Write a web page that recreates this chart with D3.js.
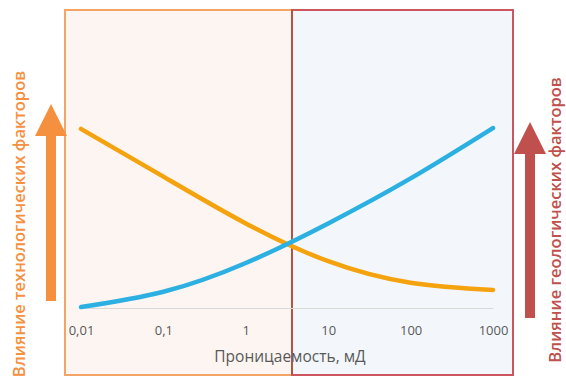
<!DOCTYPE html>
<html>
<head>
<meta charset="utf-8">
<script src="https://cdn.jsdelivr.net/npm/d3@7"></script>
<style>
  body { margin: 0; background: #fff; }
  text { font-family: "Open Sans", Lato, sans-serif; }
</style>
</head>
<body>
<svg id="chart" width="566" height="392"></svg>
<script>
// permeability ticks (mD) and relative influence values
const permeability = [0.01, 0.1, 1, 10, 100, 1000];
const tickLabels = ['0,01', '0,1', '1', '10', '100', '1000'];
const technological = [99.5, 73, 47, 26, 14, 10];
const geological = [0.5, 9, 25, 47, 72, 100];

const svg = d3.select('#chart');

const x = d3.scaleLog().domain([0.01, 1000]).range([81, 493]);
const y = d3.scaleLinear().domain([0, 100]).range([308, 128]);

// background zones
const splitX = 292;
svg.append('rect')
  .attr('x', 65).attr('y', 10).attr('width', splitX - 65).attr('height', 365)
  .attr('fill', '#fdf5f1').attr('stroke', '#f5a468').attr('stroke-width', 2);
svg.append('rect')
  .attr('x', splitX).attr('y', 10).attr('width', 513 - splitX).attr('height', 365)
  .attr('fill', '#f3f7fc').attr('stroke', '#cd5560').attr('stroke-width', 2);
svg.append('line')
  .attr('x1', splitX).attr('x2', splitX).attr('y1', 10).attr('y2', 375)
  .attr('stroke', '#b5533c').attr('stroke-width', 2);

// axis
const axis = svg.append('g').attr('transform', 'translate(0,308)')
  .call(d3.axisBottom(x).tickValues(permeability).tickSize(0)
    .tickFormat((d, i) => tickLabels[i]));
axis.select('.domain').attr('stroke', '#d9d9d9').attr('stroke-width', 1.2);
axis.selectAll('text')
  .attr('dy', 0).attr('y', 27)
  .attr('fill', '#595959').attr('font-size', 13);

svg.append('text')
  .attr('x', 290).attr('y', 362)
  .attr('text-anchor', 'middle')
  .attr('fill', '#595959').attr('font-size', 15.5)
  .text('Проницаемость, мД');

// curves
const line = d3.line()
  .x((d, i) => x(permeability[i]))
  .y(d => y(d))
  .curve(d3.curveNatural);

svg.append('path').datum(technological)
  .attr('d', line).attr('fill', 'none')
  .attr('stroke', '#f5a20f').attr('stroke-width', 4.5).attr('stroke-linecap', 'round');
svg.append('path').datum(geological)
  .attr('d', line).attr('fill', 'none')
  .attr('stroke', '#2cb0e2').attr('stroke-width', 4.5).attr('stroke-linecap', 'round');

// side arrows
const arrow = (cx, top, bottom, colour) => {
  svg.append('path')
    .attr('d', `M${cx - 5},${bottom} L${cx - 5},${top + 32} L${cx - 16},${top + 32} L${cx},${top} ` +
               `L${cx + 16},${top + 32} L${cx + 5},${top + 32} L${cx + 5},${bottom} Z`)
    .attr('fill', colour);
};
arrow(51, 104, 301, '#f5903e');
arrow(530, 122, 318, '#c0504d');

// side labels
svg.append('text')
  .attr('transform', 'translate(25,224) rotate(-90)')
  .attr('text-anchor', 'middle')
  .attr('fill', '#f5903e').attr('font-size', 16.5).attr('font-weight', 600)
  .text('Влияние технологических факторов');
svg.append('text')
  .attr('transform', 'translate(561,220) rotate(-90)')
  .attr('text-anchor', 'middle')
  .attr('fill', '#c0504d').attr('font-size', 16.5).attr('font-weight', 600)
  .text('Влияние геологических факторов');
</script>
</body>
</html>
